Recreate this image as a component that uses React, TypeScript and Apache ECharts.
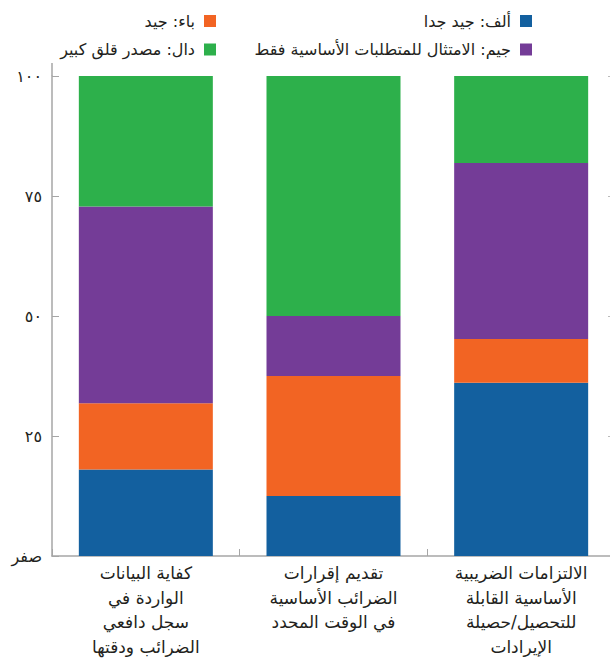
import React, { useEffect, useRef } from "react";
import * as echarts from "echarts";

// Categories in Arabic reading order (first = rightmost bar)
const categories = [
  "الالتزامات الضريبية\nالأساسية القابلة\nللتحصيل/حصيلة\nالإيرادات",
  "تقديم إقرارات\nالضرائب الأساسية\nفي الوقت المحدد",
  "كفاية البيانات\nالواردة في\nسجل دافعي\nالضرائب ودقتها",
];

const seriesNames = [
  "ألف: جيد جدا",
  "باء: جيد",
  "جيم: الامتثال للمتطلبات الأساسية فقط",
  "دال: مصدر قلق كبير",
];

const veryGood = [36.1, 12.5, 18];
const good = [9.1, 25, 13.8];
const basicOnly = [36.7, 12.5, 41];
const majorConcern = [18.1, 50, 27.2];

const yTickLabels: Record<number, string> = {
  0: "صفر",
  25: "٢٥",
  50: "٥٠",
  75: "٧٥",
  100: "١٠٠",
};

const colors = ["#13609f", "#f26423", "#743c97", "#2db04b"];

const FONT = "'DejaVu Sans', 'Noto Sans', sans-serif";
const AXIS_COLOR = "#a6a6a6";
const CHART_W = 615;

export default function App() {
  const ref = useRef<HTMLDivElement>(null);

  useEffect(() => {
    if (!ref.current) return;
    const chart = echarts.init(ref.current, undefined, { renderer: "svg" });
    const values = [veryGood, good, basicOnly, majorConcern];

    const legendCommon = {
      orient: "vertical" as const,
      align: "right" as const,
      icon: "rect",
      itemWidth: 12,
      itemHeight: 12,
      itemGap: 12.5,
      top: 8,
      selectedMode: false,
      textStyle: {
        fontFamily: FONT,
        fontSize: 16,
        color: "#231f20",
        lineHeight: 12,
        padding: [0, 4, 0, 0],
      },
    };

    chart.setOption({
      animation: false,
      color: colors,
      textStyle: { fontFamily: FONT },
      legend: [
        { ...legendCommon, right: CHART_W - 532 - 5, data: [seriesNames[0], seriesNames[2]] },
        { ...legendCommon, right: CHART_W - 216 - 5, data: [seriesNames[1], seriesNames[3]] },
      ],
      grid: { left: 52, top: 76, right: 0, height: 480, containLabel: false },
      xAxis: {
        type: "category",
        data: categories,
        inverse: true,
        axisLine: { show: true, lineStyle: { color: AXIS_COLOR, width: 1.5 } },
        axisTick: { show: true, inside: true, length: 7, lineStyle: { color: AXIS_COLOR } },
        axisLabel: {
          interval: 0,
          margin: 5,
          fontFamily: FONT,
          fontSize: 17,
          lineHeight: 24.5,
          color: "#231f20",
          align: "center",
        },
      },
      yAxis: [
        {
          type: "value",
          min: 0,
          max: 100,
          interval: 25,
          position: "left",
          splitLine: { show: false },
          axisLine: { show: true, lineStyle: { color: AXIS_COLOR, width: 1.5 } },
          axisTick: { show: true, inside: true, length: 7, lineStyle: { color: AXIS_COLOR } },
          axisLabel: {
            margin: 10,
            fontFamily: FONT,
            fontSize: 16,
            color: "#231f20",
            padding: [0, 0, 8, 0],
            formatter: (v: number) => yTickLabels[v] ?? "",
          },
        },
        {
          type: "value",
          min: 0,
          max: 100,
          interval: 25,
          position: "right",
          splitLine: { show: false },
          axisLine: { show: false },
          axisTick: { show: true, inside: true, length: 7, lineStyle: { color: "#bbbbbb" } },
          axisLabel: { show: false },
        },
      ],
      graphic: [
        {
          type: "line",
          shape: { x1: 52, y1: 63, x2: 52, y2: 76 },
          style: { stroke: AXIS_COLOR, lineWidth: 1.5 },
        },
      ],
      series: seriesNames.map((name, i) => ({
        name,
        type: "bar",
        stack: "total",
        barWidth: 134,
        data: values[i],
        itemStyle: { color: colors[i] },
      })),
    });

    return () => chart.dispose();
  }, []);

  return (
    <div
      style={{
        position: "absolute",
        left: 0,
        top: 0,
        width: 610,
        height: 670,
        overflow: "hidden",
      }}
    >
      <div ref={ref} style={{ width: CHART_W, height: 670 }} />
    </div>
  );
}
